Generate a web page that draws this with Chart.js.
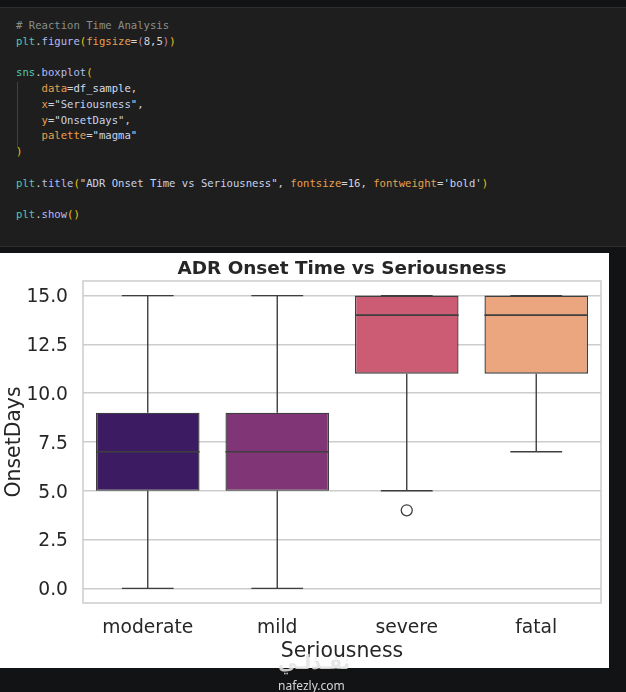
<!DOCTYPE html>
<html lang="en">
<head>
    <meta charset="UTF-8">
    <title>ADR Onset Time vs Seriousness</title>
    <script src="https://cdn.jsdelivr.net/npm/chart.js"></script>
    <style>
        html, body { margin: 0; padding: 0; background: #121314; width: 626px; height: 692px; overflow: hidden; }
        #cell { position: absolute; left: 0; top: 7px; width: 626px; height: 238px; background: #1e1e1e;
                border-top: 1px solid #2e2e2e; border-bottom: 1px solid #2e2e2e; }
        #code { position: absolute; left: 16px; top: 10px; margin: 0; font-family: "DejaVu Sans Mono", monospace;
                font-size: 10.6px; line-height: 15.75px; color: #d4d4d4; white-space: pre; }
        #guide { position: absolute; left: 17px; top: 74px; width: 1px; height: 66px; background: #404040; }
        .c { color: #8b8f8b; } .m { color: #4ec9b0; } .f { color: #b4bcf5; } .p { color: #f0c419; }
        .q { color: #c586c0; } .k { color: #e8a050; } .s { color: #c8d4ee; } .v { color: #dcdcec; }
        #chartBox { position: absolute; left: 0; top: 253px; width: 609px; height: 415px; background: #ffffff; }
        #mark1 { position: absolute; left: 278px; top: 652px; font-family: "DejaVu Sans", sans-serif; font-size: 20px;
                 line-height: 20px; font-weight: bold; color: rgba(228,228,228,0.87); transform-origin: 0 50%; white-space: nowrap; }
        #mark2 { position: absolute; left: 278px; top: 677px; font-family: "Noto Sans", sans-serif; font-size: 12px; color: #d6d6d6; }
    </style>
</head>
<body>
    <div id="cell">
        <div id="guide"></div>
<pre id="code"><span class="c"># Reaction Time Analysis</span>
<span class="m">plt</span>.<span class="f">figure</span><span class="p">(</span><span class="k">figsize</span>=<span class="q">(</span>8,5<span class="q">)</span><span class="p">)</span>

<span class="m">sns</span>.<span class="f">boxplot</span><span class="p">(</span>
    <span class="k">data</span>=<span class="v">df_sample</span>,
    <span class="k">x</span>=<span class="s">"Seriousness"</span>,
    <span class="k">y</span>=<span class="s">"OnsetDays"</span>,
    <span class="k">palette</span>=<span class="s">"magma"</span>
<span class="p">)</span>

<span class="m">plt</span>.<span class="f">title</span><span class="p">(</span><span class="s">"ADR Onset Time vs Seriousness"</span>, <span class="k">fontsize</span>=16, <span class="k">fontweight</span>=<span class="s">'bold'</span><span class="p">)</span>

<span class="m">plt</span>.<span class="f">show</span><span class="p">()</span></pre>
    </div>
    <div id="chartBox"><canvas id="boxChart" width="609" height="415"></canvas></div>
    <div id="mark1">نفـذلـي</div>
    <div id="mark2">nafezly.com</div>

    <script>
        // values
        const categories = ['moderate', 'mild', 'severe', 'fatal'];
        const whiskerLow = [0, 0, 5, 7];
        const q1 = [5, 5, 11, 11];
        const median = [7, 7, 14, 14];
        const q3 = [9, 9, 15, 15];
        const whiskerHigh = [15, 15, 15, 15];
        const outliers = [null, null, 4, null];
        const boxColors = ['#3c1b63', '#803577', '#cb5c73', '#eba57f'];
        const yTicks = [0, 2.5, 5, 7.5, 10, 12.5, 15];

        const lineColor = '#3f3f3f';
        const textColor = '#262626';

        // stretch the watermark logo to its width in the screenshot
        const mark = document.getElementById('mark1');
        mark.style.transform = 'scaleX(' + (72 / mark.getBoundingClientRect().width) + ')';

        // whiskers, caps, medians and the frame drawn from the scales
        const boxParts = {
            id: 'boxParts',
            beforeDatasetsDraw(chart) {
                const { ctx, chartArea } = chart;
                ctx.save();
                ctx.strokeStyle = '#cccccc';
                ctx.lineWidth = 1.5;
                ctx.strokeRect(chartArea.left, chartArea.top, chartArea.right - chartArea.left, chartArea.bottom - chartArea.top);
                ctx.restore();
            },
            afterDatasetsDraw(chart) {
                const { ctx } = chart;
                const x = chart.scales.x;
                const y = chart.scales.y;
                const bars = chart.getDatasetMeta(0).data;
                ctx.save();
                ctx.strokeStyle = lineColor;
                ctx.lineWidth = 1.4;
                categories.forEach((c, i) => {
                    const cx = x.getPixelForValue(i);
                    const half = bars[i].width / 2;
                    const line = (x1, y1, x2, y2) => {
                        ctx.beginPath();
                        ctx.moveTo(x1, y1);
                        ctx.lineTo(x2, y2);
                        ctx.stroke();
                    };
                    // whiskers
                    line(cx, y.getPixelForValue(q3[i]), cx, y.getPixelForValue(whiskerHigh[i]));
                    line(cx, y.getPixelForValue(q1[i]), cx, y.getPixelForValue(whiskerLow[i]));
                    // caps
                    line(cx - half / 2, y.getPixelForValue(whiskerHigh[i]), cx + half / 2, y.getPixelForValue(whiskerHigh[i]));
                    line(cx - half / 2, y.getPixelForValue(whiskerLow[i]), cx + half / 2, y.getPixelForValue(whiskerLow[i]));
                    // median
                    ctx.lineWidth = 1.6;
                    line(cx - half, y.getPixelForValue(median[i]), cx + half, y.getPixelForValue(median[i]));
                    ctx.lineWidth = 1.4;
                });
                ctx.restore();
            }
        };

        new Chart(document.getElementById('boxChart'), {
            type: 'bar',
            data: {
                labels: categories,
                datasets: [{
                    type: 'bar',
                    data: categories.map((c, i) => [q1[i], q3[i]]),
                    backgroundColor: boxColors,
                    borderColor: lineColor,
                    borderWidth: 1.4,
                    borderSkipped: false,
                    categoryPercentage: 0.8,
                    barPercentage: 1.0
                }, {
                    type: 'line',
                    data: outliers,
                    showLine: false,
                    pointRadius: 5.5,
                    pointBackgroundColor: '#ffffff',
                    pointBorderColor: lineColor,
                    pointBorderWidth: 1.3
                }]
            },
            options: {
                responsive: false,
                animation: false,
                layout: { padding: { left: 0, right: 8, top: 0, bottom: 0 } },
                plugins: {
                    legend: { display: false },
                    tooltip: { enabled: false },
                    title: {
                        display: true,
                        text: 'ADR Onset Time vs Seriousness',
                        fullSize: false,
                        color: textColor,
                        font: { family: 'DejaVu Sans', size: 18.4, weight: 'bold', lineHeight: 1.2 },
                        padding: { top: 5.5, bottom: 0.4 }
                    }
                },
                scales: {
                    x: {
                        grid: { display: false, drawTicks: false },
                        border: { display: false },
                        ticks: { color: textColor, padding: 14, font: { family: 'DejaVu Sans', size: 18.7 } },
                        title: {
                            display: true,
                            text: 'Seriousness',
                            color: textColor,
                            font: { family: 'DejaVu Sans', size: 20.4 },
                            padding: { top: 0, bottom: 4 }
                        },
                        afterFit: s => { s.height = 65; }
                    },
                    y: {
                        min: -0.75,
                        max: 15.75,
                        afterBuildTicks: s => { s.ticks = yTicks.map(v => ({ value: v })); },
                        grid: { color: '#cccccc', lineWidth: 1.5, drawTicks: false },
                        border: { display: false },
                        ticks: {
                            color: textColor,
                            padding: 15,
                            labelOffset: 2,
                            font: { family: 'DejaVu Sans', size: 18.7 },
                            callback: v => Number(v).toFixed(1)
                        },
                        title: {
                            display: true,
                            text: 'OnsetDays',
                            color: textColor,
                            font: { family: 'DejaVu Sans', size: 20.4 },
                            padding: { top: 2, bottom: 0 }
                        },
                        afterFit: s => { s.width = 83; }
                    }
                }
            },
            plugins: [boxParts]
        });
    </script>
</body>
</html>
